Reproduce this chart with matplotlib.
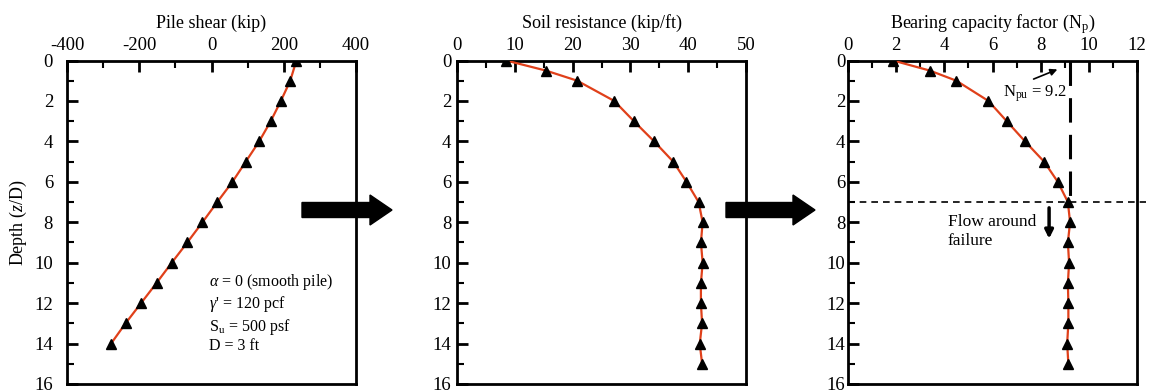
import numpy as np
import matplotlib
matplotlib.use('Agg')
import matplotlib.pyplot as plt
from matplotlib.patches import FancyArrow
from matplotlib.ticker import MultipleLocator

plt.rcParams['font.family'] = ['Liberation Serif', 'DejaVu Serif']
plt.rcParams['mathtext.fontset'] = 'custom'
plt.rcParams['mathtext.rm'] = 'Liberation Serif'
plt.rcParams['mathtext.it'] = 'Liberation Serif:italic'
plt.rcParams['axes.unicode_minus'] = False

# pile shear profile
depth_shear = [0, 1, 2, 3, 4, 5, 6, 7, 8, 9, 10, 11, 12, 13, 14]
pile_shear = [235, 218, 192, 164, 132, 95, 58, 16, -25, -67, -110, -152, -195, -238, -278]

# soil resistance and bearing capacity factor profiles
depth_res = [0, 0.5, 1, 2, 3, 4, 5, 6, 7, 8, 9, 10, 11, 12, 13, 14, 15]
soil_res = [8.5, 15.4, 20.8, 27.2, 30.6, 34.1, 37.4, 39.7, 41.8, 42.5, 42.2,
            42.5, 42.2, 42.2, 42.4, 42.0, 42.4]
bearing_np = [1.87, 3.4, 4.5, 5.83, 6.59, 7.35, 8.14, 8.71, 9.13, 9.22, 9.13,
              9.18, 9.13, 9.15, 9.15, 9.1, 9.15]

np_pu = 9.2
flow_depth = 7

xlabels = ['Pile shear (kip)', 'Soil resistance (kip/ft)',
           r'Bearing capacity factor (N$_{\rm p}$)']
xlims = [(-400, 400), (0, 50), (0, 12)]
xmajor = [200, 10, 2]
xminor = [100, 5, 1]
ypads = [10, 4, 2]

W, H = 1150, 392
fig = plt.figure(figsize=(W / 100, H / 100), dpi=100)
lefts = [67, 457, 848]
axw, axh = 289, 323.5
bottom = H - 384
axes = [fig.add_axes([l / W, bottom / H, axw / W, axh / H]) for l in lefts]

line_color = '#e0401a'
series = [(pile_shear, depth_shear), (soil_res, depth_res), (bearing_np, depth_res)]

for i, ax in enumerate(axes):
    xs, ys = series[i]
    ax.plot(xs, ys, color=line_color, lw=1.6, zorder=3)
    ax.plot(xs, ys, ls='none', marker='^', ms=6.5, color='black', zorder=4)
    ax.set_xlim(*xlims[i])
    ax.set_ylim(16, 0)
    ax.xaxis.set_major_locator(MultipleLocator(xmajor[i]))
    ax.xaxis.set_minor_locator(MultipleLocator(xminor[i]))
    ax.yaxis.set_major_locator(MultipleLocator(2))
    ax.yaxis.set_minor_locator(MultipleLocator(1))
    ax.xaxis.tick_top()
    ax.xaxis.set_label_position('top')
    ax.set_xlabel(xlabels[i], fontsize=13, labelpad=6)
    ax.tick_params(axis='x', which='both', direction='in', top=True, bottom=False,
                   labelsize=13.5, pad=5)
    ax.tick_params(axis='y', which='both', direction='in', left=True, right=False,
                   labelsize=13.5, pad=ypads[i])
    ax.tick_params(which='major', length=8, width=2)
    ax.tick_params(which='minor', length=5, width=1.5)
    for sp in ax.spines.values():
        sp.set_linewidth(2)

axes[0].set_ylabel(r'Depth ($z$/D)', fontsize=13, labelpad=4)

axes[0].text(0.49, 0.345,
             "$\\alpha$ = 0 (smooth pile)\n$\\gamma$' = 120 pcf\nS$_{\\rm u}$ = 500 psf\nD = 3 ft",
             transform=axes[0].transAxes, fontsize=11.5, va='top', ha='left',
             linespacing=1.15)

ax3 = axes[2]
ax3.plot([np_pu, np_pu], [0, flow_depth], color='black', lw=2.2,
         dashes=(8, 4), zorder=2)
ax3.axhline(flow_depth, xmin=0, xmax=1.03, color='black', lw=1.2,
            dashes=(4, 3), clip_on=False, zorder=2)
ax3.annotate('', xy=(8.8, 0.39), xytext=(7.6, 0.97),
             arrowprops=dict(arrowstyle='-|>', lw=1.2, color='black',
                             mutation_scale=10))
ax3.text(6.45, 1.62, r'N$_{\rm pu}$ = 9.2', fontsize=12, va='center', ha='left')
ax3.annotate('', xy=(8.35, 8.95), xytext=(8.35, 7.15),
             arrowprops=dict(arrowstyle='-|>', lw=2.5, color='black',
                             mutation_scale=12))
ax3.text(0.345, 0.525, 'Flow around\nfailure', transform=ax3.transAxes,
         fontsize=12.5, va='top', ha='left', linespacing=1.2)

# big arrows between panels (in inches)
for x0, x1 in [(302, 392), (726, 815)]:
    yc = (H - 210) / 100
    arr = FancyArrow(x0 / 100, yc, (x1 - x0) / 100, 0, width=0.15,
                     head_width=0.30, head_length=0.22,
                     length_includes_head=True, color='black',
                     transform=fig.dpi_scale_trans)
    fig.add_artist(arr)

fig.savefig('out.png', dpi=100)
